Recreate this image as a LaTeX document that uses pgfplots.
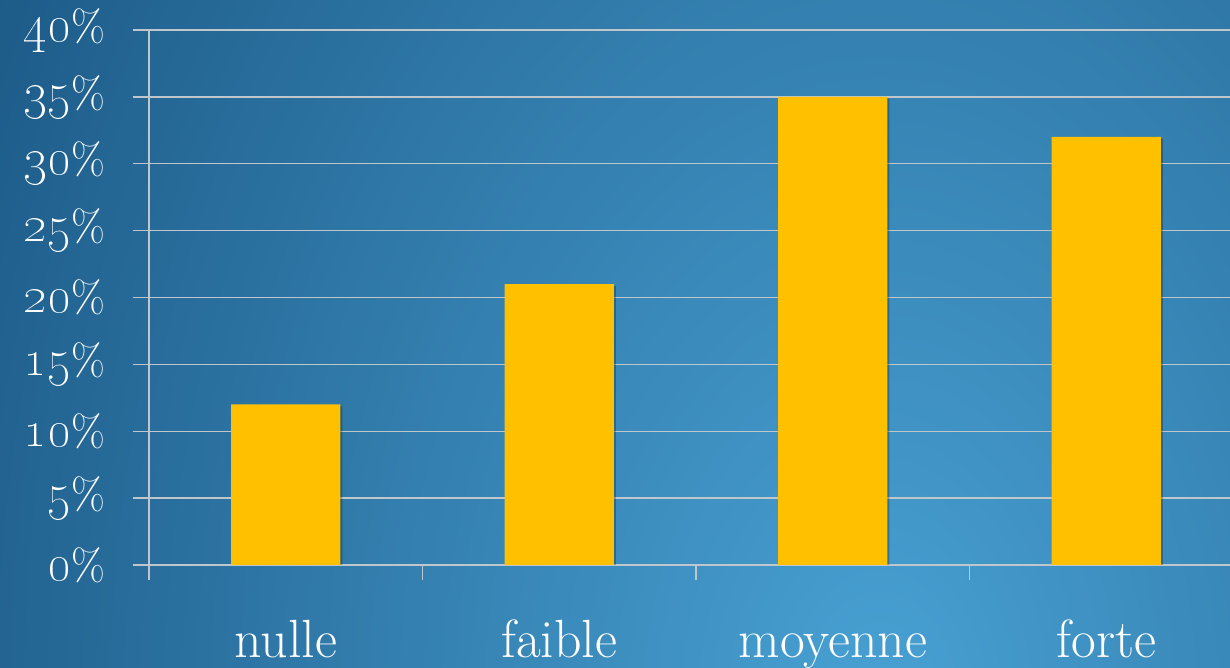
\documentclass[border=0pt]{standalone}
\usepackage{pgfplots}
\pgfplotsset{compat=1.18}
\usetikzlibrary{shadows}
\definecolor{barc}{HTML}{FFC000}
\definecolor{gridc}{HTML}{BFC6CC}
\definecolor{bgin}{HTML}{48A1D3}
\definecolor{bgout}{HTML}{1A5683}
\pgfdeclareradialshading{bgshade}{\pgfpoint{0bp}{0bp}}{color(0bp)=(bgin); color(25bp)=(bgout); color(50bp)=(bgout)}
\newcommand{\osZ}{\textzerooldstyle}
\newcommand{\osA}{\textoneoldstyle}
\newcommand{\osB}{\texttwooldstyle}
\newcommand{\osC}{\textthreeoldstyle}
\newcommand{\osD}{\textfouroldstyle}
\newcommand{\osE}{\textfiveoldstyle}
\newcommand{\os}[1]{\scalebox{1.5}{#1}}
\begin{document}
\begin{tikzpicture}
\begin{scope}
\clip (0bp,0bp) rectangle (1230bp,668bp);
\shade[shading=bgshade] (880bp,-40bp) ellipse (1080bp and 1600bp);
\end{scope}
\begin{axis}[
  at={(149bp,103bp)}, anchor=south west,
  scale only axis, width=1081bp, height=535bp,
  xmin=-0.5, xmax=3.4525, ymin=0, ymax=40,
  axis lines*=left,
  axis line style={draw=gridc, line width=1.3bp, -},
  tick align=outside,
  ytick={0,5,...,40},
  yticklabels={\os{\osZ}\%,\os{\osE}\%,\os{\osA\osZ}\%,\os{\osA\osE}\%,\os{\osB\osZ}\%,\os{\osB\osE}\%,\os{\osC\osZ}\%,\os{\osC\osE}\%,\os{\osD\osZ}\%},
  xtick={0,1,2,3},
  xticklabels={nulle,faible,moyenne,forte},
  minor xtick={-0.5,0.5,1.5,2.5},
  major tick length=16bp, minor tick length=15bp,
  every major x tick/.append style={draw=none},
  every tick/.append style={draw=gridc, line width=1.3bp},
  ymajorgrids,
  grid style={draw=gridc, line width=1.3bp},
  yticklabel style={font=\fontsize{44}{52}\selectfont, text=white, xshift=-24bp},
  xticklabel style={font=\fontsize{54}{60}\selectfont, text=white, anchor=base, yshift=-76bp},
]
\addplot[ybar, bar width=0.4, fill=barc, draw=none,
  drop shadow={shadow xshift=2bp, shadow yshift=-2bp, opacity=0.25, fill=black}]
  coordinates {(0,12) (1,21) (2,35) (3,32)};
\end{axis}
\pgfresetboundingbox
\useasboundingbox (0bp,0bp) rectangle (1230bp,668bp);
\end{tikzpicture}
\end{document}
